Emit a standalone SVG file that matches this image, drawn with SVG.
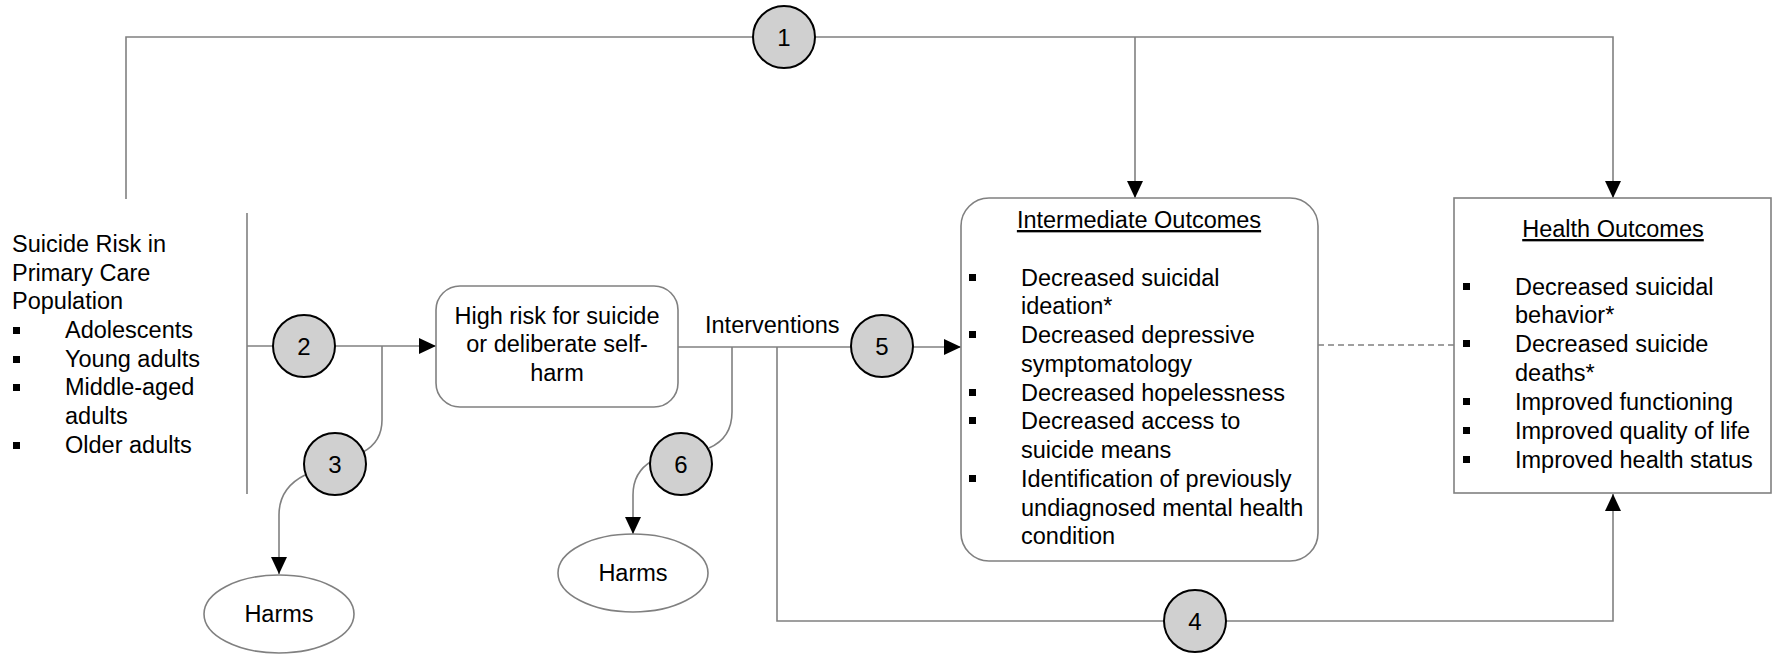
<svg xmlns="http://www.w3.org/2000/svg" width="1779" height="655" viewBox="0 0 1779 655">
<style>
text{font-family:"Liberation Sans",Arial,sans-serif;font-size:23.5px;fill:#000}
.c{text-anchor:middle}
.u{text-decoration:underline}
.ln{fill:none;stroke:#808080;stroke-width:1.6}
.box{fill:#fff;stroke:#808080;stroke-width:1.6}
.kq{fill:#d0d0d0;stroke:#000;stroke-width:2}
.b{fill:#000}
.num{font-size:24px;text-anchor:middle}
</style>
<defs>
<marker id="ah" markerUnits="userSpaceOnUse" markerWidth="18" markerHeight="16" refX="17" refY="8" orient="auto">
<path d="M0,0 L17,8 L0,16 Z" fill="#000"/>
</marker>
</defs>
<g id="connectors">
<path class="ln" d="M126,199 L126,37 L1613,37 L1613,198" marker-end="url(#ah)"/>
<path class="ln" d="M1135,37 L1135,198" marker-end="url(#ah)"/>
<path class="ln" d="M247,213 L247,494"/>
<path class="ln" d="M247,346 L436,346" marker-end="url(#ah)"/>
<path class="ln" d="M382,346 L382,420 Q382,442 363,452"/>
<path class="ln" d="M305,475 Q279,488 279,515 L279,574" marker-end="url(#ah)"/>
<path class="ln" d="M678,347 L961,347" marker-end="url(#ah)"/>
<path class="ln" d="M732,347 L732,412 Q732,438 709,448"/>
<path class="ln" d="M652,461 Q633,472 633,495 L633,534" marker-end="url(#ah)"/>
<path class="ln" d="M777,347 L777,621 L1613,621 L1613,494" marker-end="url(#ah)"/>
<path class="ln" d="M1318,345 L1454,345" stroke-dasharray="6,4"/>
</g>
<g id="n1"><circle class="kq" cx="784" cy="37" r="31"/><text class="num" x="784" y="46">1</text></g>
<g id="n2"><circle class="kq" cx="304" cy="346" r="31"/><text class="num" x="304" y="355">2</text></g>
<g id="n3"><circle class="kq" cx="335" cy="464" r="31"/><text class="num" x="335" y="473">3</text></g>
<g id="n4"><circle class="kq" cx="1195" cy="621" r="31"/><text class="num" x="1195" y="630">4</text></g>
<g id="n5"><circle class="kq" cx="882" cy="346" r="31"/><text class="num" x="882" y="355">5</text></g>
<g id="n6"><circle class="kq" cx="681" cy="464" r="31"/><text class="num" x="681" y="473">6</text></g>
<g id="population">
<text x="12" y="252">Suicide Risk in</text>
<text x="12" y="281">Primary Care</text>
<text x="12" y="309">Population</text>
<rect class="b" x="13" y="327" width="7" height="7"/><text x="65" y="338">Adolescents</text>
<rect class="b" x="13" y="356" width="7" height="7"/><text x="65" y="367">Young adults</text>
<rect class="b" x="13" y="384" width="7" height="7"/><text x="65" y="395">Middle-aged</text>
<text x="65" y="424">adults</text>
<rect class="b" x="13" y="442" width="7" height="7"/><text x="65" y="453">Older adults</text>
</g>
<g id="highrisk">
<rect class="box" x="436" y="286" width="242" height="121" rx="24" ry="24"/>
<text class="c" x="557" y="324">High risk for suicide</text>
<text class="c" x="557" y="352">or deliberate self-</text>
<text class="c" x="557" y="381">harm</text>
</g>
<g id="interventions"><text x="705" y="333">Interventions</text></g>
<g id="harms1"><ellipse class="box" cx="279" cy="614" rx="75" ry="39"/><text class="c" x="279" y="622">Harms</text></g>
<g id="harms2"><ellipse class="box" cx="633" cy="573" rx="75" ry="39"/><text class="c" x="633" y="581">Harms</text></g>
<g id="intermediate">
<rect class="box" x="961" y="198" width="357" height="363" rx="28" ry="28"/>
<text class="c u" x="1139" y="228">Intermediate Outcomes</text>
<rect class="b" x="969" y="274" width="7" height="7"/><text x="1021" y="286">Decreased suicidal</text>
<text x="1021" y="314">ideation*</text>
<rect class="b" x="969" y="331" width="7" height="7"/><text x="1021" y="343">Decreased depressive</text>
<text x="1021" y="372">symptomatology</text>
<rect class="b" x="969" y="389" width="7" height="7"/><text x="1021" y="401">Decreased hopelessness</text>
<rect class="b" x="969" y="417" width="7" height="7"/><text x="1021" y="429">Decreased access to</text>
<text x="1021" y="458">suicide means</text>
<rect class="b" x="969" y="475" width="7" height="7"/><text x="1021" y="487">Identification of previously</text>
<text x="1021" y="516">undiagnosed mental health</text>
<text x="1021" y="544">condition</text>
</g>
<g id="health">
<rect class="box" x="1454" y="198" width="317" height="295"/>
<text class="c u" x="1613" y="237">Health Outcomes</text>
<rect class="b" x="1463" y="283" width="7" height="7"/><text x="1515" y="295">Decreased suicidal</text>
<text x="1515" y="323">behavior*</text>
<rect class="b" x="1463" y="340" width="7" height="7"/><text x="1515" y="352">Decreased suicide</text>
<text x="1515" y="381">deaths*</text>
<rect class="b" x="1463" y="398" width="7" height="7"/><text x="1515" y="410">Improved functioning</text>
<rect class="b" x="1463" y="427" width="7" height="7"/><text x="1515" y="439">Improved quality of life</text>
<rect class="b" x="1463" y="456" width="7" height="7"/><text x="1515" y="468">Improved health status</text>
</g>
</svg>
